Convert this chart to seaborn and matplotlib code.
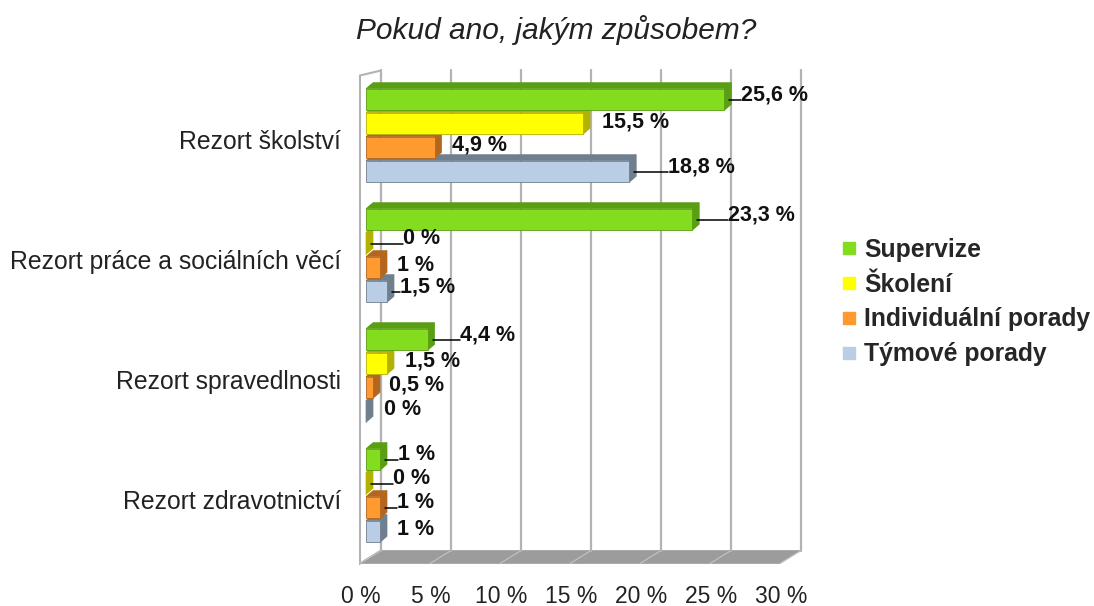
import matplotlib
matplotlib.use("Agg")
import pandas as pd
import matplotlib.pyplot as plt
import seaborn as sns
from matplotlib.patches import Polygon
from matplotlib.lines import Line2D
from matplotlib.transforms import ScaledTranslation

# data
categories = ["Rezort školství", "Rezort práce a sociálních věcí",
              "Rezort spravedlnosti", "Rezort zdravotnictví"]
series = ["Supervize", "Školení", "Individuální porady", "Týmové porady"]
supervize = [25.6, 23.3, 4.4, 1.0]
skoleni = [15.5, 0.0, 1.5, 0.0]
individualni = [4.9, 1.0, 0.5, 1.0]
tymove = [18.8, 1.5, 0.0, 1.0]
x_ticks = [0, 5, 10, 15, 20, 25, 30]

# styling
front_colors = ["#83dc1e", "#ffff00", "#ff9a30", "#b9cde5"]
side_colors = ["#5a9e14", "#b2b200", "#b3661e", "#707f8e"]
# extra label gap (px) and leader line flag, per series / category
label_extra = [[0, 19, 15, 1], [2, 20, 1, 10], [0, 0, -1, 0], [22, -4, 1, 0]]
label_line = [[1, 1, 1, 1], [0, 1, 0, 1], [0, 0, 0, 1], [1, 1, 0, 0]]

W, H = 1094, 606
sns.set_style("white")
plt.rcParams["font.family"] = ["Liberation Sans", "DejaVu Sans"]

rows = []
for s, vals in zip(series, [supervize, skoleni, individualni, tymove]):
    for c, v in zip(categories, vals):
        rows.append({"category": c, "series": s, "value": v})
df = pd.DataFrame(rows)

fig = plt.figure(figsize=(W / 100, H / 100), dpi=100)
ax = fig.add_axes([366 / W, 1 - 555.5 / H, 420 / W, 480 / H])
ax.set_facecolor("none")

sns.barplot(data=df, x="value", y="category", hue="series", order=categories,
            hue_order=series, palette=front_colors, orient="y", gap=0.1,
            saturation=1, legend=False, ax=ax)
ax.set_xlim(0, 30)
ax.set_ylim(3.5, -0.5)
for sp in ax.spines.values():
    sp.set_visible(False)
ax.set_xlabel("")
ax.set_ylabel("")

to_px = ax.transData.transform
to_data = ax.transData.inverted().transform


def shifted(x, y, dx, dy):
    px = to_px((x, y))
    return (px[0] + dx, px[1] + dy)


def poly(pts, **kw):
    p = Polygon(to_data(pts), closed=True, clip_on=False, **kw)
    ax.add_patch(p)


ybot, ytop = ax.get_ylim()
BK = (15, 5)     # back wall offset
FR = (-6, 0)     # front edge offset at top
FF = (-6, -8)    # front edge offset at floor

# left wall
poly([shifted(0, ybot, *FF), shifted(0, ytop, *FR),
      shifted(0, ytop, *BK), shifted(0, ybot, *BK)],
     facecolor="white", edgecolor="#b3b3b3", lw=1.5, zorder=1)
# floor
poly([shifted(0, ybot, *FF), shifted(30, ybot, *FF),
      shifted(30, ybot, *BK), shifted(0, ybot, *BK)],
     facecolor="#9c9c9c", edgecolor="#9c9c9c", lw=0.5, zorder=1.2)
for t in x_ticks:
    a = to_data([shifted(t, ybot, *BK), shifted(t, ybot, *FF)])
    ax.add_line(Line2D(a[:, 0], a[:, 1], color="#c4c4c4", lw=0.8,
                       clip_on=False, zorder=1.3))
    b = to_data([shifted(t, ybot, *BK), shifted(t, ytop, *BK)])
    ax.add_line(Line2D(b[:, 0], b[:, 1], color="#b3b3b3", lw=1.6,
                       clip_on=False, zorder=1.5))

# 3D faces and labels on the bars
DX, DY = 7, 6
for i, cont in enumerate(ax.containers):
    for j, bar in enumerate(cont):
        x0, w = bar.get_x(), bar.get_width()
        y0, h = bar.get_y(), bar.get_height()
        yc = y0 + h / 2
        z = 20 - 4 * yc
        bar.set_zorder(z + 0.2)
        bar.set_edgecolor(side_colors[i])
        bar.set_linewidth(0.6)
        (l, b_), (r, t_) = to_px((x0, y0 + h)), to_px((x0 + w, y0))
        poly([(l, t_), (r, t_), (r + DX, t_ + DY), (l + DX, t_ + DY)],
             facecolor=side_colors[i], edgecolor=side_colors[i], lw=0.5, zorder=z)
        poly([(r, t_), (r, b_), (r + DX, b_ + DY), (r + DX, t_ + DY)],
             facecolor=side_colors[i], edgecolor=side_colors[i], lw=0.5, zorder=z)
        cy = (t_ + b_) / 2
        tx = r + 17 + label_extra[i][j]
        ty = cy + (5 if label_line[i][j] else 2)
        if label_line[i][j]:
            a = to_data([(r + DX - 2, cy), (tx, cy)])
            ax.add_line(Line2D(a[:, 0], a[:, 1], color="black", lw=1.1,
                               clip_on=False, zorder=50))
        lx, ly = to_data((tx, ty))
        ax.text(lx, ly, f"{w:g} %".replace(".", ","), ha="left", va="center",
                fontsize=15.5, fontweight="bold", color="#111111",
                zorder=51, clip_on=False)

ax.set_xticks(x_ticks)
ax.set_xticklabels([f"{t} %" for t in x_ticks])
ax.tick_params(axis="x", length=0, pad=21, labelsize=16.5, colors="#222222")
ax.tick_params(axis="y", length=0, pad=18, labelsize=17.8, colors="#222222")
for lab in ax.get_xticklabels():
    lab.set_transform(lab.get_transform() + ScaledTranslation(-5 / 100, 0, fig.dpi_scale_trans))
for lab in ax.get_yticklabels():
    lab.set_transform(lab.get_transform() + ScaledTranslation(0, -4 / 100, fig.dpi_scale_trans))

handles = [Line2D([], [], marker="s", linestyle="", color=c, markersize=9)
           for c in front_colors]
fig.legend(handles, series, loc="center left", bbox_to_anchor=(842 / W, 1 - 302 / H),
           frameon=False, prop={"weight": "bold", "size": 17.8}, handlelength=0.6,
           handletextpad=0.3, labelspacing=0.44, borderpad=0, borderaxespad=0)

fig.text(556 / W, 1 - 30 / H, "Pokud ano, jakým způsobem?", ha="center",
         va="center", fontsize=21.5, style="italic", color="#222222")

fig.savefig("out.png", dpi=100)
